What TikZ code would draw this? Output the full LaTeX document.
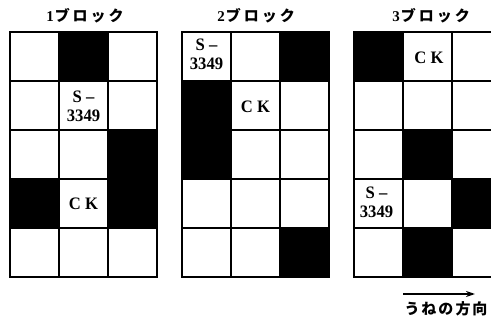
\documentclass[tikz,border=0pt]{standalone}
\usepackage{fontspec}
\setmainfont{Liberation Serif}
\newfontfamily\jp{Noto Sans CJK JP}
\usetikzlibrary{arrows.meta}
\newcommand{\cellfont}{\fontsize{17.5}{19}\selectfont\bfseries}
\newcommand{\ttlfont}{\fontsize{15}{15}\selectfont\bfseries}
\newcommand{\ttl}[1]{{\ttlfont #1\hspace{1pt}\jp ブ\hspace{3pt}ロ\hspace{3pt}ッ\hspace{3pt}ク}}
\begin{document}
\begin{tikzpicture}[x=1pt,y=-1pt,
  gridline/.style={line width=1.8pt},
  outline/.style={line width=2.4pt},
  label/.style={inner sep=0pt,align=center,font=\cellfont,xscale=0.95},
  title/.style={inner sep=0pt},
  arrowline/.style={line width=1.5pt,-{Stealth[length=9pt,width=6pt]}}]
\useasboundingbox (0,0) rectangle (491,321);
\clip (0,0) rectangle (491,321);
\def\ya{32}
\def\cs{49}
% black cells
\foreach \x/\c/\r in {10/1/0,10/2/2,10/0/3,10/2/3,
                      182/2/0,182/0/1,182/0/2,182/2/4,
                      354/0/0,354/1/2,354/2/3,354/1/4}
  \fill (\x+\c*\cs,\ya+\r*\cs) rectangle ++(\cs,\cs);
% grids
\foreach \x in {10,182,354}{
  \foreach \i in {1,2}
    \draw[gridline] (\x+\i*\cs,\ya) -- (\x+\i*\cs,\ya+5*\cs);
  \foreach \j in {1,2,3,4}
    \draw[gridline] (\x,\ya+\j*\cs) -- (\x+3*\cs,\ya+\j*\cs);
  \draw[outline] (\x,\ya) rectangle (\x+3*\cs,\ya+5*\cs);
}
% titles
\node[title] (t1) at (85,16) {\ttl{1}};
\node[title] (t2) at (256,16) {\ttl{2}};
\node[title] (t3) at (431,16) {\ttl{3}};
% cell labels
\node[label] (s1) at (83.5,106.5) {S –\\3349};
\node[label] (c1) at (83.5,203.5) {C K};
\node[label] (s2) at (206.5,54) {S –\\3349};
\node[label] (c2) at (255.5,107) {C K};
\node[label] (c3) at (429,58) {C K};
\node[label] (s3) at (376.5,202.5) {S –\\3349};
% direction arrow
\coordinate (a0) at (403,294);
\coordinate (a1) at (475,294);
\draw[arrowline] (a0) -- (a1);
\node[title] (dir) at (446,309) {\fontsize{15}{15}\selectfont\jp\bfseries う\hspace{2pt}ね\hspace{2pt}の\hspace{2pt}方\hspace{2pt}向};
\end{tikzpicture}
\end{document}
